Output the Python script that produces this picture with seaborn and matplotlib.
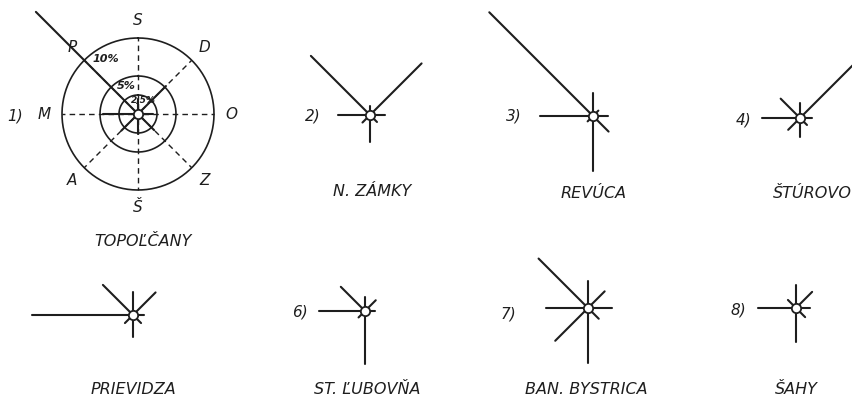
import numpy as np
import pandas as pd
import matplotlib
matplotlib.use("Agg")
import matplotlib.pyplot as plt
import seaborn as sns

# wind directions (Slovak labels), clockwise from north
DIRECTIONS = ["S", "D", "O", "Z", "Š", "A", "M", "P"]
ANGLES_DEG = [0, 45, 90, 135, 180, 225, 270, 315]

STATIONS = ["TOPOĽČANY", "N. ZÁMKY", "REVÚCA", "ŠTÚROVO",
            "PRIEVIDZA", "ST. ĽUBOVŇA", "BAN. BYSTRICA", "ŠAHY"]
NUMBERS = ["1)", "2)", "3)", "4)", "", "6)", "7)", "8)"]

# frequency of wind per direction in % (order: S, D, O, Z, Š, A, M, P)
FREQ_TOPOLCANY = [2.0, 5.2, 2.0, 3.0, 2.6, 3.1, 4.6, 19.0]
FREQ_NZAMKY = [1.2, 9.6, 2.0, 1.3, 3.5, 1.4, 4.2, 11.0]
FREQ_REVUCA = [3.0, 1.0, 2.0, 2.9, 7.2, 1.0, 7.0, 19.3]
FREQ_STUROVO = [2.0, 9.9, 1.6, 1.3, 2.5, 2.2, 5.0, 3.6]
FREQ_PRIEVIDZA = [3.0, 4.2, 1.5, 1.5, 2.9, 1.5, 13.3, 5.6]
FREQ_LUBOVNA = [1.9, 2.0, 1.3, 0.5, 7.0, 1.2, 6.0, 4.5]
FREQ_BYSTRICA = [3.5, 3.1, 3.2, 2.0, 7.2, 6.1, 5.5, 9.2]
FREQ_SAHY = [3.0, 3.0, 1.9, 1.7, 4.5, 0.5, 5.0, 1.5]

FREQS = [FREQ_TOPOLCANY, FREQ_NZAMKY, FREQ_REVUCA, FREQ_STUROVO,
         FREQ_PRIEVIDZA, FREQ_LUBOVNA, FREQ_BYSTRICA, FREQ_SAHY]

# reference circles of the first rose
RING_PCT = [2.5, 5, 10]
RING_LABELS = ["2,5%", "5%", "10%"]

# layout (pixels)
W, H = 853, 404
SCALE = 7.6          # pixels per 1 %
RMAX = 21
CENTERS = [(138, 114), (370, 115), (593, 116), (800, 118),
           (133, 315), (365, 311), (588, 308), (796, 308)]
NUM_POS = [(15, 116), (313, 116), (514, 116), (744, 120),
           None, (300, 312), (508, 314), (738, 310)]
NAME_POS = [(143, 241), (372, 192), (594, 194), (812, 194),
            (133, 390), (367, 390), (586, 390), (796, 390)]

sns.set_theme(style="white")
plt.rcParams["font.family"] = ["DejaVu Sans"]

fig = plt.figure(figsize=(W / 100, H / 100), dpi=100)
fig.patch.set_facecolor("white")
bg = fig.add_axes([0, 0, 1, 1])
bg.set_xlim(0, W)
bg.set_ylim(H, 0)
bg.axis("off")

ink = "#1e1e1e"
half = RMAX * SCALE

for i, (freq, (cx, cy)) in enumerate(zip(FREQS, CENTERS)):
    rect = [(cx - half) / W, 1 - (cy + half) / H, 2 * half / W, 2 * half / H]
    ax = fig.add_axes(rect, projection="polar")
    ax.set_theta_zero_location("N")
    ax.set_theta_direction(-1)
    ax.patch.set_alpha(0)

    df = pd.DataFrame({
        "theta": np.repeat(np.deg2rad(ANGLES_DEG), 2),
        "r": np.ravel([[0, f] for f in freq]),
        "dir": np.repeat(DIRECTIONS, 2),
    })

    if i == 0:
        th = np.linspace(0, 2 * np.pi, 300)
        for rr in RING_PCT:
            ax.plot(th, np.full_like(th, rr), color=ink, lw=1.2)
        for a in ANGLES_DEG:
            ax.plot([np.deg2rad(a)] * 2, [0.6, 10], color=ink, lw=1.0,
                    ls=(0, (4, 3)))
        for d, a in zip(DIRECTIONS, ANGLES_DEG):
            ax.text(np.deg2rad(a), 12.3, d, ha="center", va="center",
                    fontsize=11, style="italic", color=ink)
        ax.text(np.deg2rad(330), 8.4, RING_LABELS[2], ha="center", va="center",
                fontsize=8, style="italic", weight="bold", color=ink)
        ax.text(np.deg2rad(338), 4.0, RING_LABELS[1], ha="center", va="center",
                fontsize=8, style="italic", weight="bold", color=ink)
        ax.text(np.deg2rad(22), 1.9, RING_LABELS[0], ha="center", va="center",
                fontsize=6.5, style="italic", weight="bold", color=ink)

    sns.lineplot(data=df, x="theta", y="r", units="dir", estimator=None,
                 sort=False, color=ink, lw=1.5, ax=ax)
    ax.scatter([0], [0], s=45, facecolor="white", edgecolor=ink,
               linewidth=1.3, zorder=5)

    ax.set_rlim(0, RMAX)
    ax.set_xlabel("")
    ax.set_ylabel("")
    ax.set_xticks([])
    ax.set_yticks([])
    ax.grid(False)
    ax.spines["polar"].set_visible(False)

    if NUM_POS[i] is not None:
        bg.text(*NUM_POS[i], NUMBERS[i], ha="center", va="center",
                fontsize=11, style="italic", color=ink)
    bg.text(*NAME_POS[i], STATIONS[i], ha="center", va="center",
            fontsize=11.5, style="italic", color=ink)

fig.savefig("out.png", dpi=100, facecolor="white")
